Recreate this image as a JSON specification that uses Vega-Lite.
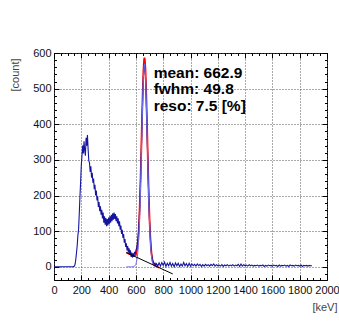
{
  "$schema": "https://vega.github.io/schema/vega-lite/v6.json",
  "width": 273,
  "height": 227,
  "autosize": "none",
  "padding": {"left": 54, "top": 53, "right": 12, "bottom": 46},
  "background": "white",
  "config": {
    "view": {"stroke": "#000", "strokeWidth": 1},
    "axis": {
      "labelFont": "Liberation Sans",
      "titleFont": "Liberation Sans",
      "labelFontSize": 11,
      "titleFontSize": 11,
      "labelColor": "#111",
      "titleColor": "#444",
      "titleFontWeight": "normal",
      "domain": false,
      "tickColor": "#000",
      "tickWidth": 1
    }
  },
  "datasets": {
    "spectrum": [
      {"e":0,"c":0},{"e":10,"c":0},{"e":20,"c":0},{"e":30,"c":0},{"e":40,"c":0},{"e":50,"c":0},{"e":60,"c":0},{"e":70,"c":0},{"e":80,"c":0},{"e":90,"c":0},{"e":100,"c":0},{"e":110,"c":0},{"e":120,"c":0},{"e":130,"c":0},{"e":140,"c":0},
      {"e":150,"c":2},{"e":155,"c":8},{"e":160,"c":22},{"e":165,"c":40},{"e":170,"c":60},{"e":175,"c":88},{"e":180,"c":105},{"e":185,"c":148},{"e":190,"c":196},{"e":195,"c":238},
      {"e":200,"c":285},{"e":205,"c":312},{"e":210,"c":340},{"e":215,"c":318},{"e":220,"c":352},{"e":225,"c":326},{"e":230,"c":312},{"e":235,"c":362},{"e":240,"c":340},{"e":245,"c":370},
      {"e":250,"c":330},{"e":255,"c":298},{"e":260,"c":292},{"e":265,"c":266},{"e":270,"c":282},{"e":275,"c":250},{"e":280,"c":264},{"e":285,"c":236},{"e":290,"c":248},{"e":295,"c":218},
      {"e":300,"c":230},{"e":305,"c":200},{"e":310,"c":214},{"e":315,"c":186},{"e":320,"c":198},{"e":325,"c":168},{"e":330,"c":182},{"e":335,"c":156},{"e":340,"c":170},{"e":345,"c":146},
      {"e":350,"c":160},{"e":355,"c":136},{"e":360,"c":152},{"e":365,"c":124},{"e":370,"c":142},{"e":375,"c":118},{"e":380,"c":137},{"e":385,"c":114},{"e":390,"c":134},{"e":395,"c":116},
      {"e":400,"c":138},{"e":405,"c":120},{"e":410,"c":142},{"e":415,"c":124},{"e":420,"c":146},{"e":425,"c":128},{"e":430,"c":150},{"e":435,"c":132},{"e":440,"c":152},{"e":445,"c":134},
      {"e":450,"c":148},{"e":455,"c":128},{"e":460,"c":142},{"e":465,"c":122},{"e":470,"c":136},{"e":475,"c":114},{"e":480,"c":128},{"e":485,"c":104},{"e":490,"c":116},{"e":495,"c":92},
      {"e":500,"c":104},{"e":505,"c":81},{"e":510,"c":92},{"e":515,"c":68},{"e":520,"c":78},{"e":525,"c":56},{"e":530,"c":66},{"e":535,"c":46},{"e":540,"c":58},{"e":545,"c":40},
      {"e":550,"c":52},{"e":555,"c":34},{"e":560,"c":46},{"e":565,"c":28},{"e":570,"c":40},{"e":575,"c":26},{"e":580,"c":38},{"e":585,"c":28},{"e":590,"c":42},{"e":595,"c":36},
      {"e":600,"c":46},{"e":605,"c":52},{"e":610,"c":64},{"e":615,"c":80},{"e":620,"c":102},{"e":625,"c":140},{"e":630,"c":188},{"e":635,"c":256},{"e":640,"c":328},{"e":645,"c":405},
      {"e":650,"c":478},{"e":655,"c":535},{"e":660,"c":570},{"e":665,"c":565},{"e":670,"c":538},{"e":675,"c":480},{"e":680,"c":408},{"e":685,"c":330},{"e":690,"c":252},{"e":695,"c":185},
      {"e":700,"c":128},{"e":705,"c":88},{"e":710,"c":56},{"e":715,"c":36},{"e":720,"c":24},{"e":725,"c":16},{"e":730,"c":12},{"e":735,"c":8},{"e":740,"c":10},{"e":745,"c":5},{"e":750,"c":9},
      {"e":760,"c":3},{"e":770,"c":11},{"e":780,"c":2},{"e":790,"c":12},{"e":800,"c":4},{"e":810,"c":13},{"e":820,"c":1},{"e":830,"c":10},{"e":840,"c":3},{"e":850,"c":12},
      {"e":860,"c":2},{"e":870,"c":9},{"e":880,"c":0},{"e":890,"c":11},{"e":900,"c":3},{"e":910,"c":10},{"e":920,"c":1},{"e":930,"c":8},{"e":940,"c":2},{"e":950,"c":12},
      {"e":960,"c":3},{"e":970,"c":9},{"e":980,"c":1},{"e":990,"c":10},{"e":1000,"c":2},{"e":1010,"c":8},{"e":1020,"c":3},{"e":1030,"c":7},{"e":1040,"c":2},{"e":1050,"c":8},
      {"e":1060,"c":3},{"e":1070,"c":7},{"e":1080,"c":1},{"e":1090,"c":6},{"e":1100,"c":2},{"e":1110,"c":7},{"e":1120,"c":3},{"e":1130,"c":6},{"e":1140,"c":2},{"e":1150,"c":7},
      {"e":1160,"c":3},{"e":1170,"c":8},{"e":1180,"c":2},{"e":1190,"c":6},{"e":1200,"c":3},{"e":1210,"c":5},{"e":1220,"c":2},{"e":1230,"c":6},{"e":1240,"c":1},{"e":1250,"c":5},
      {"e":1260,"c":3},{"e":1270,"c":6},{"e":1280,"c":2},{"e":1290,"c":5},{"e":1300,"c":3},{"e":1310,"c":6},{"e":1320,"c":2},{"e":1330,"c":5},{"e":1340,"c":3},{"e":1350,"c":7},
      {"e":1360,"c":1},{"e":1370,"c":8},{"e":1380,"c":2},{"e":1390,"c":6},{"e":1400,"c":3},{"e":1410,"c":5},{"e":1420,"c":2},{"e":1430,"c":6},{"e":1440,"c":3},{"e":1450,"c":5},
      {"e":1460,"c":2},{"e":1470,"c":4},{"e":1480,"c":3},{"e":1490,"c":5},{"e":1500,"c":2},{"e":1510,"c":4},{"e":1520,"c":3},{"e":1530,"c":5},{"e":1540,"c":1},{"e":1550,"c":4},
      {"e":1560,"c":2},{"e":1570,"c":5},{"e":1580,"c":3},{"e":1590,"c":4},{"e":1600,"c":2},{"e":1610,"c":5},{"e":1620,"c":3},{"e":1630,"c":4},{"e":1640,"c":1},{"e":1650,"c":5},
      {"e":1660,"c":2},{"e":1670,"c":4},{"e":1680,"c":3},{"e":1690,"c":5},{"e":1700,"c":2},{"e":1710,"c":4},{"e":1720,"c":1},{"e":1730,"c":5},{"e":1740,"c":3},{"e":1750,"c":4},
      {"e":1760,"c":2},{"e":1770,"c":5},{"e":1780,"c":3},{"e":1790,"c":4},{"e":1800,"c":2},{"e":1810,"c":5},{"e":1820,"c":1},{"e":1830,"c":4},{"e":1840,"c":3},{"e":1850,"c":4},
      {"e":1860,"c":2},{"e":1870,"c":4},{"e":1880,"c":3},{"e":1890,"c":3}
    ],
    "peak": [
      {"e":530,"c":0},{"e":540,"c":0},{"e":550,"c":0},{"e":560,"c":0},{"e":570,"c":0},{"e":580,"c":0.3},{"e":590,"c":1.5},{"e":600,"c":6.8},{"e":610,"c":24.9},{"e":615,"c":43.8},
      {"e":620,"c":72.9},{"e":625,"c":114.4},{"e":630,"c":170},{"e":635,"c":238.8},{"e":640,"c":317.3},{"e":645,"c":398.4},{"e":650,"c":473.2},{"e":655,"c":531.6},{"e":660,"c":564.6},{"e":663,"c":570},
      {"e":665,"c":567.2},{"e":670,"c":538.8},{"e":675,"c":484},{"e":680,"c":411.1},{"e":685,"c":330.2},{"e":690,"c":250.8},{"e":695,"c":180.2},{"e":700,"c":122.4},{"e":705,"c":78.6},{"e":710,"c":47.7},
      {"e":715,"c":27.4},{"e":720,"c":14.9},{"e":725,"c":7.7},{"e":730,"c":3.7},{"e":740,"c":0.7},{"e":750,"c":0.1},{"e":760,"c":0}
    ],
    "fit": [
      {"e":530,"c":40},{"e":540,"c":38.2},{"e":550,"c":36.5},{"e":560,"c":34.7},{"e":570,"c":33},{"e":580,"c":31.5},{"e":590,"c":30.9},{"e":600,"c":34.5},{"e":610,"c":50.8},{"e":615,"c":68.8},
      {"e":620,"c":97.1},{"e":625,"c":137.7},{"e":630,"c":192.4},{"e":635,"c":260.3},{"e":640,"c":337.9},{"e":645,"c":418.2},{"e":650,"c":492.1},{"e":655,"c":549.6},{"e":660,"c":581.7},{"e":663,"c":586.6},
      {"e":665,"c":583.4},{"e":670,"c":554.2},{"e":675,"c":498.5},{"e":680,"c":424.7},{"e":685,"c":342.9},{"e":690,"c":262.6},{"e":695,"c":191.2},{"e":700,"c":132.5},{"e":705,"c":87.8},{"e":710,"c":56},
      {"e":715,"c":34.8},{"e":720,"c":21.5},{"e":725,"c":13.4},{"e":730,"c":8.5},{"e":740,"c":3.7},{"e":750,"c":1.4},{"e":760,"c":-0.5},{"e":770,"c":-2.2}
    ],
    "background": [
      {"e":530,"c":40},{"e":870,"c":-20}
    ],
    "stats": [
      {"label":"mean: 662.9\nfwhm: 49.8\nreso: 7.5 [%]"}
    ]
  },
  "layer": [
    {
      "data": {"name": "fit"},
      "mark": {"type": "line", "color": "#ff0000", "strokeWidth": 1.8},
      "encoding": {
        "x": {"field": "e", "type": "quantitative", "scale": {"domain": [0, 2000], "nice": false, "zero": false},
          "axis": {"orient": "bottom", "values": [0,200,400,600,800,1000,1200,1400,1600,1800,2000], "format": "d", "labelOverlap": false, "tickSize": -5, "labelPadding": 9, "labelFlush": false,
            "grid": true, "gridColor": "#555", "gridDash": [1, 2], "gridWidth": 1,
            "title": "[keV]", "titleAlign": "right", "titleAnchor": "end", "titleX": 283, "titleY": 30, "titleBaseline": "alphabetic"}},
        "y": {"field": "c", "type": "quantitative", "scale": {"domain": [-37, 600], "nice": false, "zero": false},
          "axis": {"orient": "left", "values": [0,100,200,300,400,500,600], "format": "d", "labelOverlap": false, "tickSize": -5, "labelPadding": 8, "labelFlush": false,
            "grid": true, "gridColor": "#555", "gridDash": [1, 2], "gridWidth": 1,
            "title": "[count]", "titleAnchor": "end", "titleAlign": "right", "titleAngle": -90, "titleX": -39, "titleY": 5, "titleBaseline": "middle"}}
      }
    },
    {
      "data": {"name": "spectrum"},
      "mark": {"type": "line", "color": "#1515a0", "strokeWidth": 1.1},
      "encoding": {
        "x": {"field": "e", "type": "quantitative",
          "axis": {"orient": "bottom", "values": [0,50,100,150,200,250,300,350,400,450,500,550,600,650,700,750,800,850,900,950,1000,1050,1100,1150,1200,1250,1300,1350,1400,1450,1500,1550,1600,1650,1700,1750,1800,1850,1900,1950,2000],
            "tickSize": -2.5, "labels": false, "grid": false, "title": null}},
        "y": {"field": "c", "type": "quantitative",
          "axis": {"orient": "left", "values": [-20,0,20,40,60,80,100,120,140,160,180,200,220,240,260,280,300,320,340,360,380,400,420,440,460,480,500,520,540,560,580,600],
            "tickSize": -2.5, "labels": false, "grid": false, "title": null}}
      }
    },
    {
      "data": {"name": "peak"},
      "mark": {"type": "line", "color": "#7070ee", "strokeWidth": 1},
      "encoding": {
        "x": {"field": "e", "type": "quantitative",
          "axis": {"orient": "top", "values": [0,200,400,600,800,1000,1200,1400,1600,1800,2000], "tickSize": -5, "labels": false, "grid": false, "title": null}},
        "y": {"field": "c", "type": "quantitative",
          "axis": {"orient": "right", "values": [0,100,200,300,400,500,600], "tickSize": -5, "labels": false, "grid": false, "title": null}}
      }
    },
    {
      "data": {"name": "background"},
      "mark": {"type": "line", "color": "#000000", "strokeWidth": 1},
      "encoding": {
        "x": {"field": "e", "type": "quantitative",
          "axis": {"orient": "top", "values": [0,50,100,150,200,250,300,350,400,450,500,550,600,650,700,750,800,850,900,950,1000,1050,1100,1150,1200,1250,1300,1350,1400,1450,1500,1550,1600,1650,1700,1750,1800,1850,1900,1950,2000],
            "tickSize": -2.5, "labels": false, "grid": false, "title": null}},
        "y": {"field": "c", "type": "quantitative",
          "axis": {"orient": "right", "values": [-20,0,20,40,60,80,100,120,140,160,180,200,220,240,260,280,300,320,340,360,380,400,420,440,460,480,500,520,540,560,580,600],
            "tickSize": -2.5, "labels": false, "grid": false, "title": null}}
      }
    },
    {
      "data": {"name": "stats"},
      "mark": {"type": "text", "align": "left", "baseline": "alphabetic", "font": "Liberation Sans", "fontSize": 15.5, "fontWeight": "bold", "color": "#000", "lineBreak": "\n", "lineHeight": 16.7},
      "encoding": {
        "x": {"datum": 730, "type": "quantitative", "axis": null},
        "y": {"datum": 531, "type": "quantitative", "axis": null},
        "text": {"field": "label", "type": "nominal"}
      }
    }
  ],
  "resolve": {"axis": {"x": "independent", "y": "independent"}}
}
